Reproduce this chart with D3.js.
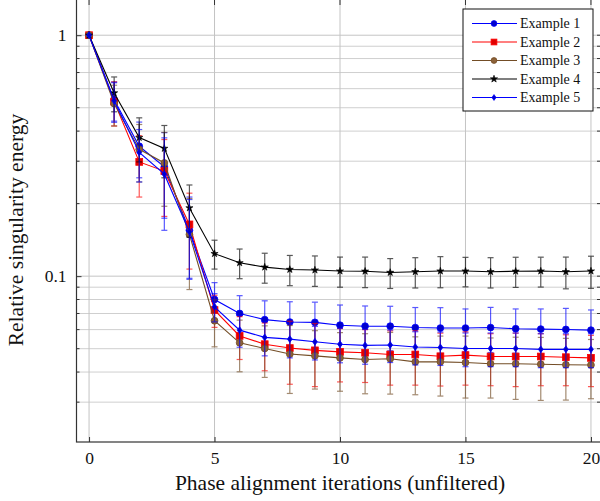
<!DOCTYPE html>
<html>
<head>
<meta charset="utf-8">
<script src="https://cdn.jsdelivr.net/npm/d3@7"></script>
<style>
  body { margin: 0; background: #fff; }
</style>
</head>
<body>
<div id="chart"></div>
<script>
// iterations on the x axis
const iterations = [0, 1, 2, 3, 4, 5, 6, 7, 8, 9, 10, 11, 12, 13, 14, 15, 16, 17, 18, 19, 20];

// mean values per series
const ex1 = [1, 0.54, 0.346, 0.284, 0.155, 0.080, 0.070, 0.066, 0.0645, 0.0643, 0.0626, 0.0620, 0.0620, 0.0612, 0.0609, 0.0609, 0.0612, 0.0605, 0.0603, 0.0601, 0.0597];
const ex2 = [1, 0.53, 0.298, 0.273, 0.164, 0.0723, 0.0565, 0.0522, 0.0503, 0.0492, 0.0485, 0.0481, 0.0473, 0.0473, 0.0465, 0.0470, 0.0464, 0.0464, 0.0464, 0.0461, 0.0458];
const ex3 = [1, 0.52, 0.336, 0.295, 0.149, 0.0653, 0.0529, 0.0501, 0.0475, 0.0467, 0.0458, 0.0451, 0.0454, 0.0441, 0.0441, 0.0438, 0.0433, 0.0433, 0.0431, 0.0429, 0.0428];
const ex4 = [1, 0.576, 0.376, 0.339, 0.192, 0.124, 0.1136, 0.109, 0.1066, 0.106, 0.105, 0.1048, 0.1036, 0.1043, 0.105, 0.105, 0.1043, 0.1048, 0.105, 0.1043, 0.105];
const ex5 = [1, 0.535, 0.326, 0.265, 0.153, 0.0746, 0.0597, 0.0557, 0.0548, 0.0534, 0.0522, 0.0516, 0.0518, 0.0508, 0.0506, 0.0501, 0.0501, 0.0501, 0.0497, 0.0497, 0.0497];

// symmetric error (±) per series
const ex1Err = [0, 0.10, 0.09, 0.11, 0.058, 0.014, 0.013, 0.013, 0.0138, 0.0137, 0.0133, 0.0132, 0.013, 0.0129, 0.0131, 0.0122, 0.013, 0.0126, 0.0128, 0.0134, 0.0127];
const ex2Err = [0, 0.11, 0.085, 0.096, 0.057, 0.011, 0.0114, 0.0117, 0.0147, 0.0144, 0.0121, 0.0119, 0.012, 0.012, 0.0115, 0.0117, 0.0113, 0.0116, 0.0113, 0.011, 0.011];
const ex3Err = [0, 0.10, 0.09, 0.10, 0.061, 0.0144, 0.0128, 0.0121, 0.0149, 0.0127, 0.0125, 0.0126, 0.013, 0.0119, 0.0123, 0.0126, 0.0121, 0.0125, 0.0126, 0.0123, 0.0118];
const ex4Err = [0, 0.095, 0.078, 0.083, 0.047, 0.017, 0.016, 0.0155, 0.0153, 0.0153, 0.015, 0.0152, 0.0147, 0.015, 0.0155, 0.0147, 0.015, 0.015, 0.0149, 0.0157, 0.016];
const ex5Err = [0, 0.10, 0.08, 0.11, 0.055, 0.010, 0.009, 0.009, 0.009, 0.0085, 0.0085, 0.0085, 0.008, 0.008, 0.008, 0.008, 0.008, 0.008, 0.008, 0.008, 0.008];

const seriesNames = ["Example 1", "Example 2", "Example 3", "Example 4", "Example 5"];

const xTicks = [0, 5, 10, 15, 20];
const yMajor = [0.1, 1];
const yMinor = [0.03, 0.04, 0.05, 0.06, 0.07, 0.08, 0.09, 0.2, 0.3, 0.4, 0.5, 0.6, 0.7, 0.8, 0.9];

const series = [
  { name: seriesNames[0], values: ex1, err: ex1Err, color: "#0000ff", fill: "#0000cc", mark: "circle" },
  { name: seriesNames[1], values: ex2, err: ex2Err, color: "#ff0000", fill: "#e00000", mark: "square" },
  { name: seriesNames[2], values: ex3, err: ex3Err, color: "#734d26", fill: "#8c6239", mark: "circle" },
  { name: seriesNames[3], values: ex4, err: ex4Err, color: "#000000", fill: "#000000", mark: "star" },
  { name: seriesNames[4], values: ex5, err: ex5Err, color: "#0000ff", fill: "#0000cc", mark: "diamond" }
];

const FONT = "\"Liberation Serif\"";
const W = 600, H = 501;
const plot = { left: 76.5, right: 601, top: 0, bottom: 442 };

const svg = d3.select("#chart").append("svg")
  .attr("width", W)
  .attr("height", H);

const x = d3.scaleLinear().domain([-0.5, 20.4]).range([plot.left, plot.right]);
const y = d3.scaleLog().domain([0.0205, 1.4]).range([plot.bottom, plot.top]);

// grid
const grid = svg.append("g");
grid.selectAll(".hmin")
  .data(yMinor)
  .enter().append("line")
  .attr("x1", plot.left).attr("x2", plot.right)
  .attr("y1", d => y(d)).attr("y2", d => y(d))
  .attr("stroke", "#cfcfcf").attr("stroke-width", 1);
grid.selectAll(".hmaj")
  .data(yMajor)
  .enter().append("line")
  .attr("x1", plot.left).attr("x2", plot.right)
  .attr("y1", d => y(d)).attr("y2", d => y(d))
  .attr("stroke", "#c4c4c4").attr("stroke-width", 1);
grid.selectAll(".vmaj")
  .data(xTicks)
  .enter().append("line")
  .attr("x1", d => x(d)).attr("x2", d => x(d))
  .attr("y1", plot.top).attr("y2", plot.bottom)
  .attr("stroke", "#c4c4c4").attr("stroke-width", 1);

// axes
const axisColor = "#333";
svg.append("g")
  .attr("transform", `translate(0,${plot.bottom})`)
  .call(d3.axisBottom(x).tickValues(xTicks).tickSize(-5).tickPadding(10).tickFormat(d3.format("d")))
  .call(g => g.select(".domain").remove())
  .call(g => g.selectAll(".tick line").attr("stroke", axisColor))
  .call(g => g.selectAll(".tick text").style("font-size", "17.5px").style("font-family", FONT).attr("fill", "#111"));

svg.append("g")
  .attr("transform", `translate(${plot.left},0)`)
  .call(d3.axisLeft(y).tickValues(yMajor).tickSize(-5).tickPadding(10).tickFormat(d => d === 1 ? "1" : "0.1"))
  .call(g => g.select(".domain").remove())
  .call(g => g.selectAll(".tick line").attr("stroke", axisColor))
  .call(g => g.selectAll(".tick text").style("font-size", "17.5px").style("font-family", FONT).attr("fill", "#111"));

// minor ticks left and right
svg.append("g").selectAll("line")
  .data(yMinor)
  .enter().append("line")
  .attr("x1", plot.left).attr("x2", plot.left + 3)
  .attr("y1", d => y(d)).attr("y2", d => y(d))
  .attr("stroke", axisColor);
svg.append("g").selectAll("line")
  .data(yMinor.concat(yMajor))
  .enter().append("line")
  .attr("x1", plot.right).attr("x2", plot.right - 4)
  .attr("y1", d => y(d)).attr("y2", d => y(d))
  .attr("stroke", axisColor);
svg.append("g").selectAll("line")
  .data(xTicks)
  .enter().append("line")
  .attr("x1", d => x(d)).attr("x2", d => x(d))
  .attr("y1", plot.top).attr("y2", plot.top + 5)
  .attr("stroke", axisColor);

svg.append("rect")
  .attr("x", plot.left).attr("y", plot.top - 1)
  .attr("width", plot.right - plot.left).attr("height", plot.bottom - plot.top + 1)
  .attr("fill", "none").attr("stroke", axisColor).attr("stroke-width", 1.2);

// axis labels
svg.append("text")
  .attr("x", 340)
  .attr("y", 490)
  .attr("text-anchor", "middle")
  .style("font-family", FONT)
  .style("font-size", "21.5px")
  .attr("fill", "#111")
  .text("Phase alignment iterations (unfiltered)");

svg.append("text")
  .attr("transform", `translate(23,${230}) rotate(-90)`)
  .attr("text-anchor", "middle")
  .style("font-family", FONT)
  .style("font-size", "21.5px")
  .attr("fill", "#111")
  .text("Relative singularity energy");

// markers
function drawMark(g, s, cx, cy, scale) {
  const k = scale || 1;
  if (s.mark === "circle") {
    g.append("circle").attr("cx", cx).attr("cy", cy).attr("r", 3.4 * k)
      .attr("fill", s.fill).attr("stroke", s.color).attr("stroke-width", 0.8);
  } else if (s.mark === "square") {
    g.append("rect").attr("x", cx - 3.4 * k).attr("y", cy - 3.4 * k)
      .attr("width", 6.8 * k).attr("height", 6.8 * k)
      .attr("fill", s.fill).attr("stroke", s.color).attr("stroke-width", 0.8);
  } else if (s.mark === "star") {
    g.append("path").attr("transform", `translate(${cx},${cy})`)
      .attr("d", d3.symbol(d3.symbolStar, 16 * k * k)())
      .attr("fill", s.fill).attr("stroke", s.color).attr("stroke-width", 0.6);
  } else if (s.mark === "diamond") {
    const a = 2.4 * k, b = 3.4 * k;
    g.append("path")
      .attr("d", `M${cx},${cy - b}L${cx + a},${cy}L${cx},${cy + b}L${cx - a},${cy}Z`)
      .attr("fill", s.fill).attr("stroke", s.color).attr("stroke-width", 0.8);
  }
}

const line = d3.line()
  .x((d, i) => x(iterations[i]))
  .y(d => y(d));

series.forEach(s => {
  const g = svg.append("g");
  // error bars
  const eb = g.append("g").attr("stroke", s.color).attr("stroke-width", 1.2).attr("opacity", 0.65);
  s.values.forEach((v, i) => {
    const e = s.err[i];
    if (!e) return;
    const px = x(iterations[i]);
    const y1 = y(v + e), y2 = y(Math.max(v - e, 0.0205));
    eb.append("line").attr("x1", px).attr("x2", px).attr("y1", y1).attr("y2", y2);
    eb.append("line").attr("x1", px - 3).attr("x2", px + 3).attr("y1", y1).attr("y2", y1);
    eb.append("line").attr("x1", px - 3).attr("x2", px + 3).attr("y1", y2).attr("y2", y2);
  });
  g.append("path")
    .datum(s.values)
    .attr("d", line)
    .attr("fill", "none")
    .attr("stroke", s.color)
    .attr("stroke-width", 1.1);
  s.values.forEach((v, i) => drawMark(g, s, x(iterations[i]), y(v)));
});

// legend
const lg = svg.append("g").attr("transform", "translate(463,9)");
lg.append("rect")
  .attr("width", 130).attr("height", 102)
  .attr("fill", "#fff").attr("stroke", "#111").attr("stroke-width", 1);
series.forEach((s, i) => {
  const ly = 14.5 + i * 18.5;
  lg.append("line")
    .attr("x1", 9).attr("x2", 54).attr("y1", ly).attr("y2", ly)
    .attr("stroke", s.color).attr("stroke-width", 1.1);
  drawMark(lg, s, 31, ly, s.mark === "star" ? 1 : 0.85);
  lg.append("text")
    .attr("x", 57).attr("y", ly + 4.5)
    .style("font-family", FONT)
    .style("font-size", "14px")
    .attr("fill", "#111")
    .text(s.name);
});
</script>
</body>
</html>
